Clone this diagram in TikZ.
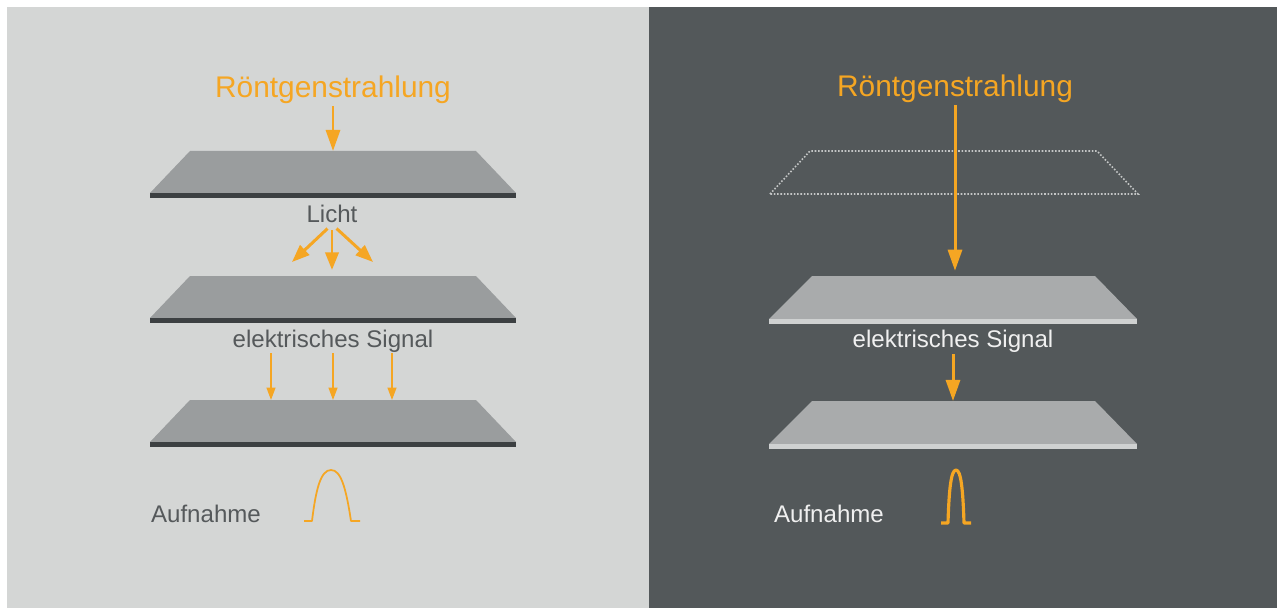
\documentclass[tikz,border=0pt]{standalone}
\usepackage{fontspec}
\setmainfont{Liberation Sans}
\usetikzlibrary{positioning,arrows.meta}

\definecolor{bgLight}{HTML}{D4D6D5}
\definecolor{bgDark}{HTML}{53585A}
\definecolor{faceL}{HTML}{9A9D9E}
\definecolor{edgeL}{HTML}{3C4042}
\definecolor{faceR}{HTML}{A9ABAC}
\definecolor{edgeR}{HTML}{CFD1D1}
\definecolor{dotCol}{HTML}{C4C6C6}
\definecolor{txtL}{HTML}{55595B}
\definecolor{txtR}{HTML}{F0F0F0}
\definecolor{xrayOrange}{HTML}{F5A623}

\begin{document}
\begin{tikzpicture}[
        x=0.02cm, y=-0.02cm,
        heading/.style={font=\fontsize{17}{20}\selectfont, text=xrayOrange, inner sep=1pt, anchor=base},
        lbl/.style={font=\fontsize{13.7}{16}\selectfont, inner sep=1pt, anchor=base},
        xray/.style={draw=xrayOrange, line width=1.7pt, -{Triangle[length=12pt, width=8pt]}},
        lightarr/.style={draw=xrayOrange, line width=1.7pt, -{Triangle[length=10pt, width=7.5pt]}},
        sigarr/.style={draw=xrayOrange, line width=0.9pt, -{Triangle[length=7pt, width=5pt]}},
        pulse/.style={draw=xrayOrange, line width=1pt, line join=round},
    ]
        \useasboundingbox (0,0) rectangle (1279,608);

        % left panel
        \fill[bgLight] (7,7) rectangle (648.5,608);
        \foreach \y/\n in {151/pL1,276/pL2,400/pL3} {
            \fill[faceL] (150,\y+42) -- (190,\y) -- (476,\y) -- (516,\y+42) -- cycle;
            \fill[edgeL] (150,\y+42) rectangle (516,\y+47);
            \coordinate (\n) at (333,\y);
        }

        \node[heading] (rL) at (333,98) {Röntgenstrahlung};
        \node[lbl, text=txtL] (lichtL) at (332,222) {Licht};
        \node[lbl, text=txtL] (sigL) at (333,347) {elektrisches Signal};
        \node[lbl, text=txtL, anchor=base west] (aufL) at (149,522) {Aufnahme};

        \draw[xray] (rL) -- (pL1);

        \coordinate (l1) at (292,262);
        \coordinate (l2) at (332,270);
        \coordinate (l3) at (373,262);
        \foreach \c in {l1,l2,l3}
            \draw[lightarr, shorten <=3.5pt] (lichtL.south) -- (\c);

        \coordinate (s1) at (271,353);
        \coordinate (s2) at (333,353);
        \coordinate (s3) at (392,353);
        \foreach \c in {s1,s2,s3}
            \draw[sigarr] (\c) -- (\c |- pL3);

        \draw[pulse] (304,521) -- (312,521) .. controls (316,488) and (321,470) .. (331,470)
            .. controls (341,470) and (346,488) .. (351,521) -- (360,521);

        % right panel
        \fill[bgDark] (648.5,7) rectangle (1277,608);
        \draw[dotCol, line width=0.9pt, dash pattern=on 0.9pt off 1pt]
            (770,194) -- (810,151) -- (1097,151) -- (1138,194) -- cycle;
        \coordinate (pR1) at (954,151);
        \foreach \y/\n in {276/pR2,401/pR3} {
            \fill[faceR] (769,\y+43) -- (812,\y) -- (1095,\y) -- (1137,\y+43) -- cycle;
            \fill[edgeR] (769,\y+43) rectangle (1137,\y+48);
            \coordinate (\n) at (953,\y);
        }

        \node[heading] (rR) at (955,97) {Röntgenstrahlung};
        \node[lbl, text=txtR] (sigR) at (953,347) {elektrisches Signal};
        \node[lbl, text=txtR, anchor=base west] (aufR) at (772,522) {Aufnahme};

        \draw[xray, shorten >=3pt] (rR) -- (rR |- pR2);
        \draw[xray] (sigR) -- (sigR |- pR3);

        \draw[pulse, line width=1.8pt] (941,523) -- (948,523) .. controls (949,490) and (951,470) .. (956,470)
            .. controls (961,470) and (963,490) .. (964,523) -- (971,523);
    \end{tikzpicture}
\end{document}
